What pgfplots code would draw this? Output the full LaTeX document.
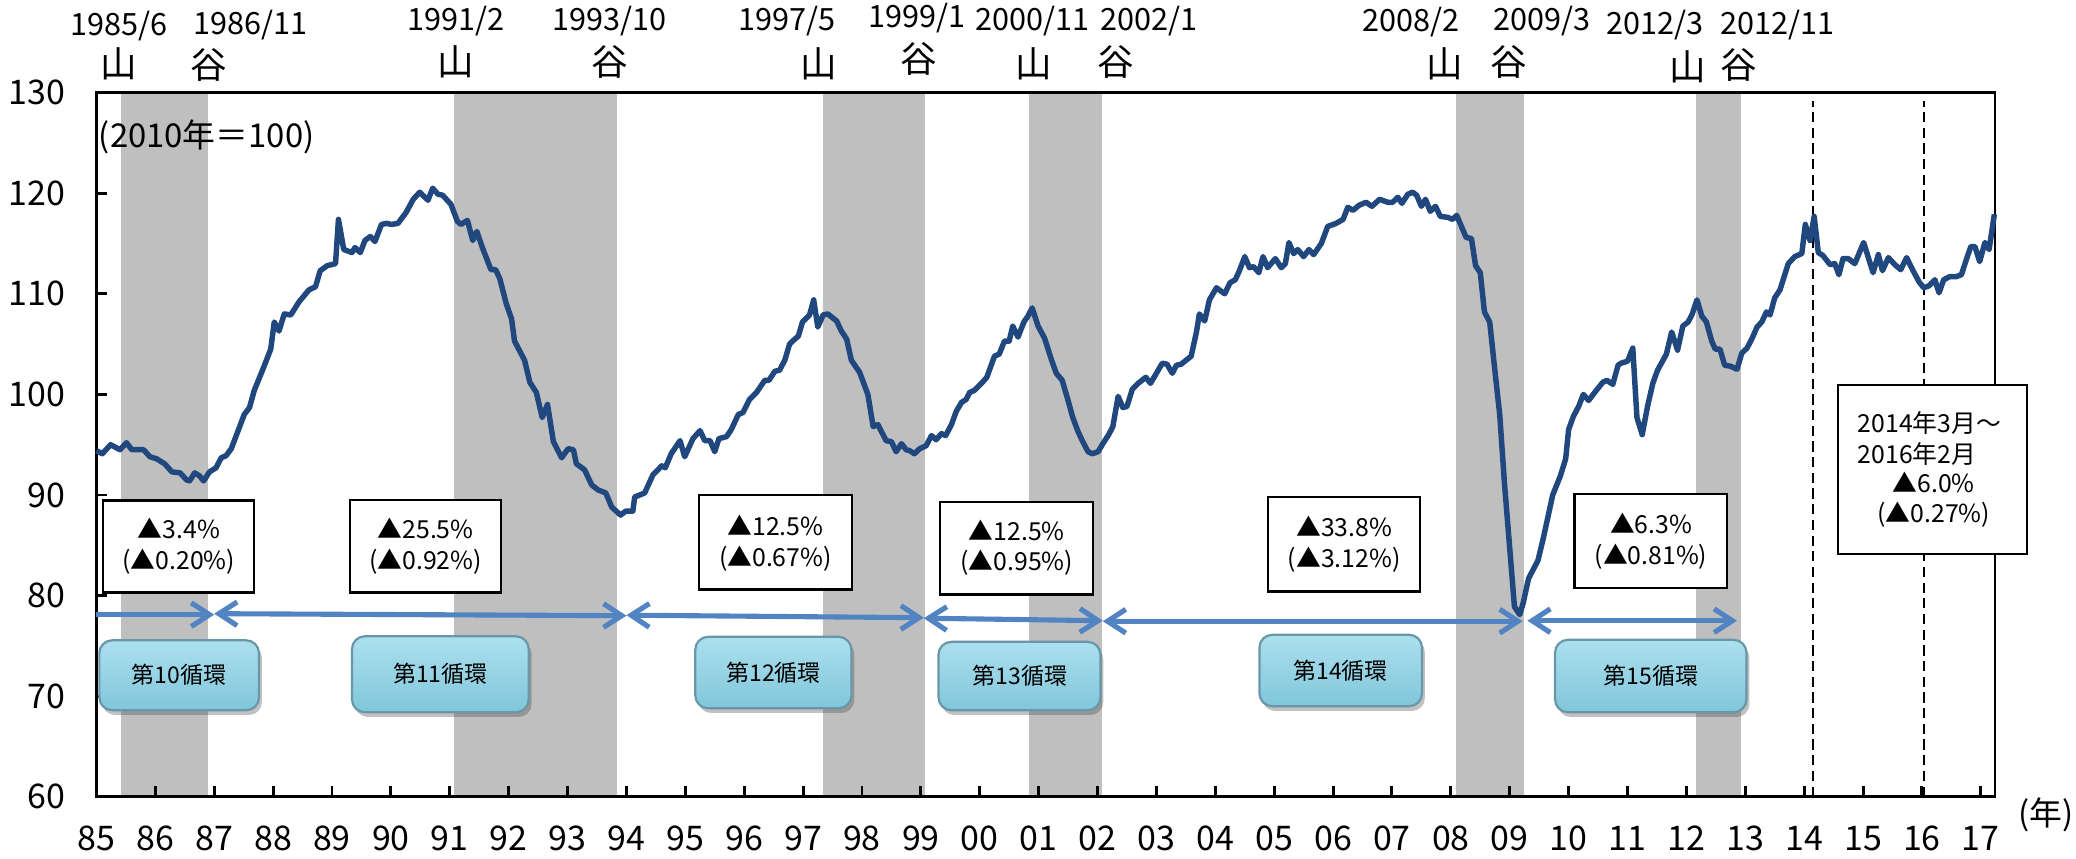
\documentclass[border=0pt]{standalone}
\usepackage{fontspec}
\setmainfont{Noto Sans CJK JP}
\usepackage{pgfplots}
\usepackage{pgfplotstable}
\pgfplotsset{compat=1.18}
\usetikzlibrary{arrows.meta,shadows}

\definecolor{recess}{HTML}{BFBFBF}
\definecolor{iipblue}{RGB}{33,72,126}
\definecolor{arrblue}{RGB}{82,131,194}
\definecolor{cyctop}{RGB}{172,224,238}
\definecolor{cycbot}{RGB}{128,198,218}
\definecolor{cycedge}{RGB}{105,150,168}

% industrial production index (2010=100)
\pgfplotstableread{
t v
1985.00 94.4
1985.10 94.1
1985.24 95.0
1985.40 94.5
1985.51 95.2
1985.60 94.5
1985.80 94.5
1985.91 93.8
1986.02 93.6
1986.16 93.1
1986.28 92.3
1986.42 92.2
1986.53 91.5
1986.58 91.4
1986.67 92.2
1986.75 91.9
1986.82 91.4
1986.92 92.3
1987.03 92.7
1987.12 93.7
1987.20 93.9
1987.29 94.6
1987.40 96.3
1987.51 98.0
1987.60 98.7
1987.68 100.4
1987.82 102.4
1987.96 104.5
1988.02 107.2
1988.10 106.3
1988.19 108.0
1988.30 107.9
1988.44 109.2
1988.61 110.4
1988.72 110.7
1988.80 112.3
1988.92 112.8
1989.06 113.0
1989.11 117.4
1989.20 114.4
1989.34 114.1
1989.39 114.6
1989.48 114.1
1989.56 115.3
1989.65 115.7
1989.73 115.2
1989.84 116.9
1989.93 117.0
1990.01 116.9
1990.12 117.0
1990.26 118.1
1990.38 119.4
1990.49 120.1
1990.63 119.3
1990.71 120.5
1990.80 119.9
1990.88 119.8
1991.02 118.9
1991.13 117.2
1991.19 116.9
1991.30 117.3
1991.39 115.3
1991.46 116.2
1991.56 114.5
1991.70 112.4
1991.78 112.4
1991.85 111.5
1991.96 109.0
1992.05 107.5
1992.10 105.3
1992.27 103.4
1992.36 101.2
1992.47 100.2
1992.57 97.7
1992.66 99.0
1992.76 95.3
1992.90 93.7
1993.01 94.6
1993.10 94.5
1993.15 93.1
1993.29 92.5
1993.41 91.0
1993.52 90.5
1993.65 90.2
1993.75 88.8
1993.90 88.0
1993.99 88.4
1994.11 88.4
1994.14 89.8
1994.31 90.2
1994.45 92.0
1994.60 92.9
1994.66 92.7
1994.76 94.1
1994.91 95.4
1994.99 93.8
1995.13 95.6
1995.25 96.4
1995.33 95.4
1995.42 95.4
1995.50 94.3
1995.57 95.6
1995.70 95.8
1995.78 96.5
1995.90 98.0
1995.98 98.2
1996.09 99.5
1996.21 100.2
1996.35 101.4
1996.42 101.4
1996.52 102.3
1996.60 102.4
1996.69 103.4
1996.77 105.0
1996.86 105.5
1996.92 105.8
1996.99 107.2
1997.11 107.9
1997.18 109.4
1997.25 106.7
1997.34 107.9
1997.42 108.0
1997.57 107.3
1997.65 106.3
1997.74 105.5
1997.82 103.4
1997.96 102.2
1998.10 100.0
1998.19 96.8
1998.27 97.0
1998.41 95.4
1998.50 95.3
1998.58 94.3
1998.67 95.1
1998.75 94.5
1998.81 94.4
1998.89 94.1
1998.98 94.6
1999.09 94.9
1999.18 95.9
1999.26 95.5
1999.35 96.1
1999.42 95.9
1999.52 97.0
1999.60 98.3
1999.69 99.2
1999.77 99.5
1999.83 100.2
1999.91 100.4
2000.03 101.1
2000.12 101.7
2000.25 103.8
2000.33 104.0
2000.42 105.3
2000.50 105.3
2000.56 106.8
2000.65 105.7
2000.75 107.2
2000.82 107.8
2000.89 108.6
2000.99 106.8
2001.10 105.6
2001.22 103.4
2001.30 102.1
2001.40 101.4
2001.50 99.4
2001.58 97.7
2001.67 96.3
2001.75 95.3
2001.84 94.3
2001.91 94.1
2002.01 94.3
2002.09 95.1
2002.19 96.0
2002.26 96.8
2002.35 99.8
2002.43 98.7
2002.50 98.8
2002.59 100.5
2002.69 101.1
2002.82 101.7
2002.90 101.1
2003.00 102.1
2003.10 103.1
2003.18 103.0
2003.27 102.1
2003.34 102.9
2003.42 103.0
2003.59 103.8
2003.68 106.2
2003.73 108.0
2003.82 107.3
2003.90 109.4
2004.02 110.6
2004.16 110.0
2004.25 111.1
2004.34 111.4
2004.41 112.3
2004.50 113.7
2004.58 112.6
2004.65 112.7
2004.74 112.1
2004.81 113.7
2004.89 112.6
2005.02 113.5
2005.12 112.6
2005.19 113.0
2005.25 115.1
2005.33 114.0
2005.40 114.4
2005.50 113.7
2005.59 114.4
2005.67 113.9
2005.80 115.0
2005.91 116.7
2006.05 117.0
2006.17 117.4
2006.25 118.6
2006.34 118.3
2006.44 118.8
2006.56 119.1
2006.66 118.7
2006.79 119.4
2006.93 119.1
2007.01 119.1
2007.10 119.6
2007.17 119.0
2007.27 119.9
2007.35 120.1
2007.42 119.8
2007.50 118.7
2007.57 119.4
2007.65 118.2
2007.74 118.7
2007.82 117.7
2007.95 117.6
2008.03 117.4
2008.10 117.8
2008.18 116.7
2008.26 115.6
2008.35 115.5
2008.42 112.8
2008.50 112.1
2008.57 108.2
2008.66 107.2
2008.74 102.8
2008.83 98.0
2008.91 91.2
2009.00 84.7
2009.08 78.9
2009.17 78.1
2009.23 79.3
2009.32 81.7
2009.48 83.5
2009.57 85.7
2009.73 90.0
2009.86 91.9
2009.95 93.6
2010.00 96.5
2010.08 97.8
2010.17 98.8
2010.25 100.0
2010.34 99.4
2010.47 100.4
2010.58 101.2
2010.65 101.4
2010.75 101.0
2010.84 102.9
2010.89 103.1
2011.00 103.3
2011.09 104.6
2011.16 97.7
2011.25 96.0
2011.34 98.8
2011.43 101.1
2011.51 102.4
2011.66 104.0
2011.75 106.2
2011.85 104.4
2011.94 106.8
2012.03 107.2
2012.10 108.0
2012.18 109.4
2012.26 107.8
2012.34 107.2
2012.43 105.3
2012.49 104.5
2012.57 104.5
2012.65 102.9
2012.75 102.8
2012.86 102.5
2012.94 104.1
2013.03 104.6
2013.11 105.5
2013.20 106.7
2013.28 107.2
2013.36 108.2
2013.42 107.9
2013.50 109.6
2013.59 110.4
2013.73 113.0
2013.84 113.7
2013.96 114.0
2014.02 116.9
2014.10 115.3
2014.17 117.7
2014.24 114.1
2014.32 113.8
2014.44 112.9
2014.52 113.0
2014.59 111.9
2014.66 113.5
2014.75 113.5
2014.86 113.0
2015.01 115.1
2015.17 112.1
2015.26 113.9
2015.33 112.3
2015.43 113.6
2015.54 112.9
2015.64 112.4
2015.74 113.6
2015.85 112.3
2015.95 111.2
2016.03 110.6
2016.12 110.8
2016.22 111.4
2016.29 110.1
2016.37 111.4
2016.47 111.7
2016.58 111.7
2016.67 111.9
2016.76 113.5
2016.83 114.7
2016.90 114.7
2016.98 113.2
2017.07 115.1
2017.14 114.4
2017.23 117.9
}\iip

\tikzset{
  lbl/.style={draw=black, line width=0.6pt, fill=white},
  boxtxt/.style={font=\fontsize{6.8}{8.3}\selectfont, align=center, inner sep=0pt},
  cyc/.style={rounded corners=3.5pt, draw=cycedge, line width=0.6pt,
    top color=cyctop, bottom color=cycbot,
    drop shadow={shadow xshift=0.8pt, shadow yshift=-1.3pt, opacity=0.35, fill=black!70}},
  cyctxt/.style={font=\fontsize{6.3}{7}\selectfont, inner sep=0pt},
  arr/.style={draw=arrblue, line width=1.4pt, >={Straight Barb[length=5pt,width=6.5pt]}},
  date/.style={font=\fontsize{8.4}{9}\selectfont, inner sep=0pt},
  yama/.style={font=\fontsize{10}{10}\selectfont, inner sep=0pt},
}

\begin{document}
\begin{tikzpicture}
\begin{axis}[
  set layers,
  scale only axis, width=520.4pt, height=193pt,
  xmin=1985, xmax=2017.24, ymin=60, ymax=130,
  clip=false,
  axis line style={line width=0.8pt},
  xtick={1985,1986,...,2017},
  xticklabels={85,86,87,88,89,90,91,92,93,94,95,96,97,98,99,00,01,02,03,04,05,06,07,08,09,10,11,12,13,14,15,16,17},
  ytick={60,70,...,130},
  tick align=inside, tick pos=left,
  major tick length=3pt,
  tick style={black, line width=0.8pt},
  /pgf/number format/assume math mode=true,
  ticklabel style={font=\fontsize{9.3}{10}\selectfont},
  xticklabel style={anchor=base, inner sep=0pt, yshift=-14.8pt},
  yticklabel style={anchor=east, inner sep=0pt, xshift=-8.3pt},
]
% recession periods (peak to trough)
\addplot[on layer=axis background, fill=recess, draw=none] coordinates {(1985.41,60) (1985.41,130) (1986.90,130) (1986.90,60)} -- cycle;
\addplot[on layer=axis background, fill=recess, draw=none] coordinates {(1991.08,60) (1991.08,130) (1993.84,130) (1993.84,60)} -- cycle;
\addplot[on layer=axis background, fill=recess, draw=none] coordinates {(1997.33,60) (1997.33,130) (1999.07,130) (1999.07,60)} -- cycle;
\addplot[on layer=axis background, fill=recess, draw=none] coordinates {(2000.84,60) (2000.84,130) (2002.08,130) (2002.08,60)} -- cycle;
\addplot[on layer=axis background, fill=recess, draw=none] coordinates {(2008.08,60) (2008.08,130) (2009.25,130) (2009.25,60)} -- cycle;
\addplot[on layer=axis background, fill=recess, draw=none] coordinates {(2012.17,60) (2012.17,130) (2012.92,130) (2012.92,60)} -- cycle;

% 2014/3 and 2016/2
\draw[dash pattern=on 2.8pt off 1.5pt, line width=0.6pt] (axis cs:2014.15,60) -- (axis cs:2014.15,129.2);
\draw[dash pattern=on 2.8pt off 1.5pt, line width=0.6pt] (axis cs:2016.03,60) -- (axis cs:2016.03,129.2);

\addplot[iipblue, line width=1.5pt, mark=none, line join=round] table[x=t, y=v] {\iip};

% cycle arrows
\draw[arr, ->] (axis cs:1985.0,78.1) -- (axis cs:1987.0,78.1);
\draw[arr, <->] (axis cs:1987.0,78.2) -- (axis cs:1994.0,78.0);
\draw[arr, <->] (axis cs:1994.0,78.05) -- (axis cs:1999.05,77.8);
\draw[arr, <->] (axis cs:1999.05,77.75) -- (axis cs:2002.09,77.5);
\draw[arr, <->] (axis cs:2002.09,77.45) -- (axis cs:2009.22,77.45);
\draw[arr, <->] (axis cs:2009.30,77.5) -- (axis cs:2012.86,77.5);

% cycle name boxes
\draw[cyc] (axis cs:1985.05,68.6) rectangle (axis cs:1987.76,75.55);
\node[cyctxt] at (axis cs:1986.40,72.1) {第10循環};
\draw[cyc] (axis cs:1989.34,68.4) rectangle (axis cs:1992.34,75.95);
\node[cyctxt] at (axis cs:1990.84,72.2) {第11循環};
\draw[cyc] (axis cs:1995.17,68.8) rectangle (axis cs:1997.82,75.9);
\node[cyctxt] at (axis cs:1996.50,72.35) {第12循環};
\draw[cyc] (axis cs:1999.30,68.6) rectangle (axis cs:2002.05,75.4);
\node[cyctxt] at (axis cs:2000.68,72.0) {第13循環};
\draw[cyc] (axis cs:2004.75,69.0) rectangle (axis cs:2007.51,76.1);
\node[cyctxt] at (axis cs:2006.13,72.55) {第14循環};
\draw[cyc] (axis cs:2009.77,68.4) rectangle (axis cs:2013.02,75.6);
\node[cyctxt] at (axis cs:2011.40,72.0) {第15循環};

% rate-of-decline boxes
\draw[lbl] (axis cs:1985.11,80.3) rectangle (axis cs:1987.68,89.45);
\node[boxtxt] at (axis cs:1986.40,84.9) {▲3.4\%\\(▲0.20\%)};
\draw[lbl] (axis cs:1989.30,80.3) rectangle (axis cs:1991.87,89.5);
\node[boxtxt] at (axis cs:1990.59,84.9) {▲25.5\%\\(▲0.92\%)};
\draw[lbl] (axis cs:1995.23,80.6) rectangle (axis cs:1997.83,90.0);
\node[boxtxt] at (axis cs:1996.53,85.2) {▲12.5\%\\(▲0.67\%)};
\draw[lbl] (axis cs:1999.33,80.1) rectangle (axis cs:2001.92,89.3);
\node[boxtxt] at (axis cs:2000.63,84.75) {▲12.5\%\\(▲0.95\%)};
\draw[lbl] (axis cs:2004.90,80.4) rectangle (axis cs:2007.48,89.8);
\node[boxtxt] at (axis cs:2006.19,85.1) {▲33.8\%\\(▲3.12\%)};
\draw[lbl] (axis cs:2010.10,80.75) rectangle (axis cs:2012.69,90.1);
\node[boxtxt] at (axis cs:2011.40,85.4) {▲6.3\%\\(▲0.81\%)};
\draw[lbl] (axis cs:2014.58,84.1) rectangle (axis cs:2017.79,100.9);
\node[boxtxt, align=left, anchor=west] at (axis cs:2014.90,95.6) {2014年3月～\\2016年2月};
\node[boxtxt] at (axis cs:2016.20,89.5) {▲6.0\%\\(▲0.27\%)};

% base year and unit
\node[anchor=west, inner sep=0pt, font=\fontsize{9}{10}\selectfont] at (axis cs:1985.03,125.6) {(2010年＝100)};
\node[inner sep=0pt, font=\fontsize{9}{10}\selectfont, xshift=14pt, yshift=-5pt] at (rel axis cs:1,0) {(年)};

% peak / trough dates
\node[date] at (axis cs:1985.38,136.6) {1985/6};
\node[date] at (axis cs:1987.61,136.7) {1986/11};
\node[date] at (axis cs:1991.10,137.1) {1991/2};
\node[date] at (axis cs:1993.72,137.1) {1993/10};
\node[date] at (axis cs:1996.72,137.1) {1997/5};
\node[date] at (axis cs:1998.93,137.4) {1999/1};
\node[date] at (axis cs:2000.90,137.1) {2000/11};
\node[date] at (axis cs:2002.87,137.1) {2002/1};
\node[date] at (axis cs:2007.32,137.0) {2008/2};
\node[date] at (axis cs:2009.54,137.1) {2009/3};
\node[date] at (axis cs:2011.46,136.7) {2012/3};
\node[date] at (axis cs:2013.55,136.7) {2012/11};

\node[yama] at (axis cs:1985.38,132.85) {山};
\node[yama] at (axis cs:1986.90,132.75) {谷};
\node[yama] at (axis cs:1991.10,133.1) {山};
\node[yama] at (axis cs:1993.72,133.0) {谷};
\node[yama] at (axis cs:1997.27,132.85) {山};
\node[yama] at (axis cs:1998.96,133.35) {谷};
\node[yama] at (axis cs:2000.92,132.9) {山};
\node[yama] at (axis cs:2002.31,133.0) {谷};
\node[yama] at (axis cs:2007.90,132.85) {山};
\node[yama] at (axis cs:2008.98,133.0) {谷};
\node[yama] at (axis cs:2012.02,132.6) {山};
\node[yama] at (axis cs:2012.89,132.75) {谷};

\coordinate (bbsw) at (rel axis cs:-0.0508,-0.0881);
\coordinate (bbne) at (rel axis cs:1.0427,1.1316);
\end{axis}
\pgfresetboundingbox
\path[use as bounding box] (bbsw) rectangle (bbne);
\end{tikzpicture}
\end{document}
